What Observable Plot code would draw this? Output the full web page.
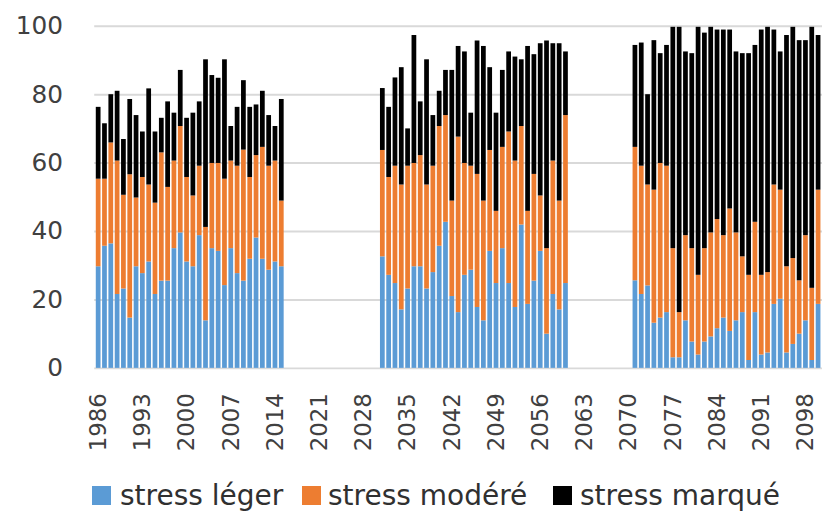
<!DOCTYPE html>
<html>
<head>
<meta charset="utf-8">
<script src="https://cdn.jsdelivr.net/npm/d3@7"></script>
<script src="https://cdn.jsdelivr.net/npm/@observablehq/plot@0.6"></script>
<style>
  html, body { margin: 0; padding: 0; background: #fff; overflow: hidden; width: 825px; height: 513px; }
  #wrap { position: relative; width: 825px; height: 513px; }
  #chart svg { display: block; }
  .leg { position: absolute; top: 482px; height: 28px; line-height: 28px; font-family: "DejaVu Sans", sans-serif; font-size: 28px; color: #303030; white-space: nowrap; }
  .sw { position: absolute; top: 486px; width: 19px; height: 19px; }
</style>
</head>
<body>
<div id="wrap">
  <div id="chart"></div>
</div>
<script>
// Series names and colours
const seriesNames = ["stress léger", "stress modéré", "stress marqué"];
const seriesColors = ["#5B9BD5", "#ED7D31", "#000000"];

// Y ticks and X tick labels
const yTicks = [0, 20, 40, 60, 80, 100];
const xTickYears = [1986, 1993, 2000, 2007, 2014, 2021, 2028, 2035, 2042, 2049, 2056, 2063, 2070, 2077, 2084, 2091, 2098];

// Period 1: 1986–2015
const years1 = [1986,1987,1988,1989,1990,1991,1992,1993,1994,1995,1996,1997,1998,1999,2000,2001,2002,2003,2004,2005,2006,2007,2008,2009,2010,2011,2012,2013,2014,2015];
const leger1  = [29.7,35.7,36.4,21.6,23.2,14.7,29.7,27.7,31.1,21.6,25.5,25.5,35.0,39.6,31.1,29.7,38.8,13.9,35.0,34.2,24.2,35.0,27.7,25.5,31.9,38.1,31.9,28.7,31.1,29.7];
const modere1 = [25.6,19.6,29.5,39.0,27.4,41.9,20.1,28.1,22.5,26.7,37.5,27.4,25.6,31.1,24.7,20.7,20.3,27.3,24.9,25.7,31.1,25.6,31.4,38.3,23.9,24.1,32.7,30.4,29.5,19.2];
const marque1 = [21.0,16.2,14.1,20.4,16.3,22.0,24.1,13.3,28.1,20.8,10.1,25.0,14.0,16.4,17.3,24.2,18.8,49.0,25.7,24.9,34.9,10.1,17.2,20.3,20.5,14.8,16.4,14.8,10.1,29.7];

// Period 2: 2031–2060
const years2 = [2031,2032,2033,2034,2035,2036,2037,2038,2039,2040,2041,2042,2043,2044,2045,2046,2047,2048,2049,2050,2051,2052,2053,2054,2055,2056,2057,2058,2059,2060];
const leger2  = [32.6,27.2,24.8,17.1,23.2,29.7,29.7,23.2,28.0,35.7,42.7,21.0,16.3,27.2,28.7,17.8,13.9,34.2,24.8,35.0,24.8,17.8,41.9,18.7,25.5,34.2,10.0,21.6,17.1,24.8];
const modere2 = [31.1,28.6,34.3,36.5,35.9,30.2,32.5,30.4,31.1,35.0,31.2,27.9,51.3,32.7,30.4,38.9,35.0,29.5,21.1,29.6,44.3,42.8,28.8,27.2,31.2,16.2,25.0,39.0,31.8,49.1];
const marque2 = [18.1,20.5,25.8,34.3,10.9,37.4,15.7,36.6,14.8,10.3,13.2,38.2,26.5,32.6,15.5,39.0,45.2,24.2,28.7,22.5,23.4,30.4,19.5,48.2,35.0,44.5,60.7,34.3,46.0,18.6];

// Period 3: 2071–2100
const years3 = [2071,2072,2073,2074,2075,2076,2077,2078,2079,2080,2081,2082,2083,2084,2085,2086,2087,2088,2089,2090,2091,2092,2093,2094,2095,2096,2097,2098,2099,2100];
const leger3  = [25.6,21.6,24.1,13.2,14.7,16.3,3.1,3.1,13.9,7.7,3.9,7.7,9.2,11.6,14.7,10.8,13.9,16.3,2.3,16.3,3.9,4.5,18.7,20.2,4.5,7.0,10.0,13.9,2.3,18.7];
const modere3 = [39.0,37.5,29.5,38.9,45.2,42.8,31.9,13.2,24.9,27.3,23.3,27.3,30.4,31.9,24.1,35.8,25.7,16.3,24.9,26.4,23.3,23.5,34.9,31.9,25.2,25.1,15.6,24.9,21.1,33.4];
const marque3 = [29.8,36.0,26.4,43.7,32.1,35.3,64.7,83.4,53.7,57.0,72.5,63.0,60.1,55.4,60.1,52.3,52.9,59.4,64.8,51.7,71.7,71.7,45.3,40.4,67.6,67.6,70.2,57.0,76.3,45.2];

// Build long-format table
const rows = [];
[[years1, leger1, modere1, marque1], [years2, leger2, modere2, marque2], [years3, leger3, modere3, marque3]]
  .forEach(([yrs, a, b, c]) => {
    yrs.forEach((yr, i) => {
      rows.push({year: yr, serie: seriesNames[0], value: a[i]});
      rows.push({year: yr, serie: seriesNames[1], value: b[i]});
      rows.push({year: yr, serie: seriesNames[2], value: c[i]});
    });
  });

const allYears = d3.range(1986, 2101);

const chart = Plot.plot({
  width: 832,
  height: 478,
  marginLeft: 95,
  marginRight: 3,
  marginTop: 26,
  marginBottom: 107,
  style: {fontFamily: "DejaVu Sans, sans-serif", color: "#404040", background: "white"},
  x: {type: "band", domain: allYears, padding: 0.25, label: null},
  y: {domain: [0, 100], label: null},
  color: {domain: seriesNames, range: seriesColors},
  marks: [
    Plot.ruleY(yTicks, {stroke: "#d9d9d9", strokeWidth: 2}),
    Plot.barY(rows, {x: "year", y: "value", fill: "serie", order: seriesNames}),
    Plot.axisY({ticks: yTicks, tickSize: 0, tickPadding: 32, fontSize: 25, label: null, fill: "#404040"}),
    Plot.axisX({ticks: xTickYears, tickFormat: d => String(d), tickSize: 0, tickPadding: 25, tickRotate: -90, fontSize: 23, label: null, fill: "#404040"})
  ]
});
document.getElementById("chart").appendChild(chart);

// Legend below the chart
const legPos = [[92, 120], [302, 328], [553, 580]];
const wrap = document.getElementById("wrap");
seriesNames.forEach((name, i) => {
  const sw = document.createElement("div");
  sw.className = "sw";
  sw.style.left = legPos[i][0] + "px";
  sw.style.background = seriesColors[i];
  wrap.appendChild(sw);
  const t = document.createElement("div");
  t.className = "leg";
  t.style.left = legPos[i][1] + "px";
  t.textContent = name;
  wrap.appendChild(t);
});
</script>
</body>
</html>
